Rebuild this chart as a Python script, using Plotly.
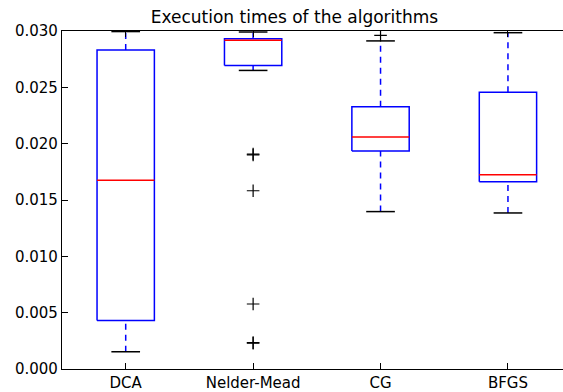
import plotly.graph_objects as go

labels = ["DCA", "Nelder-Mead", "CG", "BFGS"]
positions = [1, 2, 3, 4]
q1 = [0.0043, 0.02694, 0.01935, 0.01662]
median = [0.01676, 0.02918, 0.02059, 0.01724]
q3 = [0.02832, 0.02932, 0.02327, 0.02456]
whisker_low = [0.00153, 0.0265, 0.01397, 0.01385]
whisker_high = [0.02995, 0.02991, 0.02912, 0.02985]
outlier_pos = [2, 2, 2, 2, 2, 2, 3]
outlier_val = [0.0190, 0.01908, 0.01582, 0.00577, 0.00229, 0.00234, 0.02962]
y_ticks = [0, 0.005, 0.01, 0.015, 0.02, 0.025, 0.03]

BOX_W = 0.45
CAP_W = BOX_W / 2

box_x, box_y = [], []
med_x, med_y = [], []
wh_x, wh_y = [], []
cap_x, cap_y = [], []
for p, a, m, b, lo, hi in zip(positions, q1, median, q3, whisker_low, whisker_high):
    l, r = p - BOX_W / 2, p + BOX_W / 2
    box_x += [l, r, r, l, l, None]
    box_y += [a, a, b, b, a, None]
    med_x += [l, r, None]
    med_y += [m, m, None]
    wh_x += [p, p, None, p, p, None]
    wh_y += [lo, a, None, b, hi, None]
    cap_x += [p - CAP_W / 2, p + CAP_W / 2, None, p - CAP_W / 2, p + CAP_W / 2, None]
    cap_y += [lo, lo, None, hi, hi, None]

fig = go.Figure()
fig.add_trace(go.Scatter(x=wh_x, y=wh_y, mode="lines",
                         line=dict(color="#0000ff", width=1.5, dash="6px,5px"),
                         hoverinfo="skip"))
fig.add_trace(go.Scatter(x=cap_x, y=cap_y, mode="lines",
                         line=dict(color="black", width=1.5), hoverinfo="skip"))
fig.add_trace(go.Scatter(x=box_x, y=box_y, mode="lines",
                         line=dict(color="#0000ff", width=1.5), hoverinfo="skip"))
fig.add_trace(go.Scatter(x=med_x, y=med_y, mode="lines",
                         line=dict(color="#ff0000", width=1.5), hoverinfo="skip"))
fig.add_trace(go.Scatter(x=outlier_pos, y=outlier_val, mode="markers",
                         marker=dict(symbol="cross-thin", size=9,
                                     line=dict(color="black", width=1.2)),
                         hoverinfo="skip"))

fig.update_layout(
    width=563, height=392,
    margin=dict(l=62, r=0, t=31, b=21),
    paper_bgcolor="white", plot_bgcolor="white",
    showlegend=False,
    font=dict(family="DejaVu Sans", size=15, color="black"),
    title=dict(text="Execution times of the algorithms",
               font=dict(family="DejaVu Sans", size=17, color="black"),
               x=0.464, xanchor="center", xref="paper",
               y=1 - 17.5 / 392, yref="container", yanchor="middle"),
)
fig.update_xaxes(range=[0.5, 4.432], tickvals=positions, ticktext=labels,
                 showline=True, linecolor="black", linewidth=1.3, mirror="ticks",
                 ticks="inside", ticklen=6, tickcolor="black", tickwidth=1,
                 showgrid=False, zeroline=False)
fig.update_yaxes(range=[0, 0.030], tickvals=y_ticks, tickformat=".3f",
                 showline=True, linecolor="black", linewidth=1.3, mirror=False,
                 ticks="inside", ticklen=6, tickcolor="black", tickwidth=1,
                 showgrid=False, zeroline=False)

fig.write_html("out.html",
               config={"displayModeBar": False},
               post_script="document.body.style.margin='0px';document.body.style.overflow='hidden';")
